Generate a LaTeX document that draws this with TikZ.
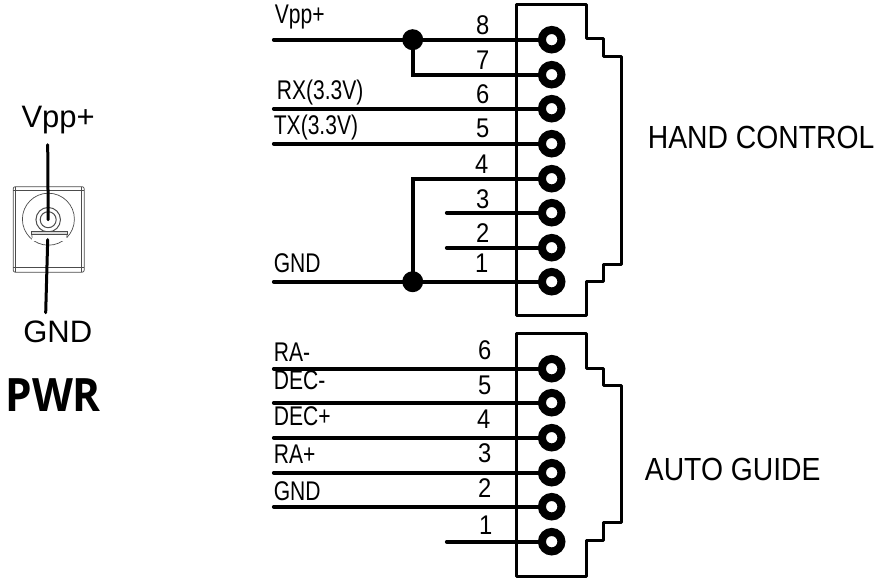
\documentclass[tikz,border=0pt]{standalone}
\usepackage{fontspec}
\setmainfont{Liberation Sans}
\newfontfamily\pwrfont{Open Sans}
\tikzset{
  x=1pt,y=-1pt,
  wire/.style={line width=3.6pt,line cap=round,line join=miter},
  shell/.style={line width=3pt,line join=round},
  pin/.style={circle,draw,line width=8pt,fill=white,inner sep=0pt,minimum size=19.5pt},
  junction/.style={circle,fill=black,inner sep=0pt,minimum size=21pt},
  thin part/.style={line width=0.7pt,draw=black!70},
  wirelabel/.style={font=\fontsize{27}{27}\selectfont,xscale=.78,anchor=base west,inner sep=0pt},
  pinnum/.style={font=\fontsize{27}{27}\selectfont,xscale=.88,anchor=base,inner sep=0pt},
  biglabel/.style={font=\fontsize{32}{32}\selectfont,xscale=.885,anchor=base west,inner sep=0pt},
  jacklabel/.style={font=\fontsize{31}{31}\selectfont,anchor=base,inner sep=0pt},
  lead/.style={line width=3pt,line cap=round},
}
\begin{document}
\begin{tikzpicture}
\useasboundingbox (-0.7,-0.7) rectangle (877.3,578.3);
% connector shells
\draw[shell] (516,4) -- (586,4) -- (586,38) -- (603,38) -- (603,56) -- (621,56) -- (621,264) -- (603,264) -- (603,281) -- (586,281) -- (586,315) -- (516,315) -- cycle;
\draw[shell] (516,333) -- (586,333) -- (586,368) -- (603,368) -- (603,385) -- (621,385) -- (621,522) -- (603,522) -- (603,540) -- (586,540) -- (586,576) -- (516,576) -- cycle;
% free ends
\coordinate (w8) at (273,39);
\coordinate (w6) at (273,108);
\coordinate (w5) at (273,143);
\coordinate (w3) at (446,212);
\coordinate (w2) at (446,247);
\coordinate (w1) at (273,281);
\coordinate (a6w) at (273,368);
\coordinate (a5w) at (273,402);
\coordinate (a4w) at (273,437);
\coordinate (a3w) at (273,472);
\coordinate (a2w) at (273,506);
\coordinate (a1w) at (446,541);
\coordinate (t7) at (412,74);
\coordinate (t4) at (412,178);
% pins
\foreach \n/\y in {8/39,7/74,6/108,5/143,4/178,3/212,2/247,1/281}
  \coordinate (c\n) at (551,\y);
\foreach \n/\y in {6/368,5/402,4/437,3/472,2/506,1/541}
  \coordinate (d\n) at (551,\y);
\node[junction] (j1) at (412,39) {};
\node[junction] (j2) at (412,281) {};
% wires
\draw[wire] (w8) -- (c8);
\draw[wire] (j1.center) -- (t7) -- (c7);
\draw[wire] (w6) -- (c6);
\draw[wire] (w5) -- (c5);
\draw[wire] (j2.center) -- (t4) -- (c4);
\draw[wire] (w3) -- (c3);
\draw[wire] (w2) -- (c2);
\draw[wire] (w1) -- (c1);
\draw[wire] (a6w) -- (d6);
\draw[wire] (a5w) -- (d5);
\draw[wire] (a4w) -- (d4);
\draw[wire] (a3w) -- (d3);
\draw[wire] (a2w) -- (d2);
\draw[wire] (a1w) -- (d1);
\foreach \n in {8,7,6,5,4,3,2,1} \node[pin] (p\n) at (c\n) {};
\foreach \n in {6,5,4,3,2,1} \node[pin] (q\n) at (d\n) {};
% pin numbers
\foreach \n/\x/\y in {8/482/34,7/482/69,6/482/103,5/482/137,4/481/173,3/482/208,2/482/242,1/481/272}
  \node[pinnum] (n\n) at (\x,\y) {\n};
\foreach \n/\x/\y in {6/484/359,5/484/394,4/483/428,3/484/462,2/484/497,1/485/534}
  \node[pinnum] (m\n) at (\x,\y) {\n};
% wire labels
\node[wirelabel] (lv) at (274,23) {Vpp+};
\node[wirelabel] (lrx) at (276,99) {RX(3.3V)};
\node[wirelabel] (ltx) at (273,134) {TX(3.3V)};
\node[wirelabel] (lg) at (273,272) {GND};
\node[wirelabel] (lra) at (273,361) {RA-};
\node[wirelabel] (ldm) at (273,389) {DEC-};
\node[wirelabel] (ldp) at (273,425) {DEC+};
\node[wirelabel] (lrp) at (273,463) {RA+};
\node[wirelabel] (lag) at (273,500) {GND};
% titles
\node[biglabel] (hc) at (647,148) {HAND CONTROL};
\node[biglabel] (ag) at (644,479.5) {AUTO GUIDE};
% power jack
\draw[thin part,rounded corners=2pt] (12.5,186) rectangle (83.5,271.5);
\draw[thin part] (15,186) -- (15,271.5);
\draw[thin part] (81,186) -- (81,271.5);
\draw[thin part] (12.5,190) -- (83.5,190);
\draw[thin part] (12.5,267) -- (83.5,267);
\node[circle,thin part,draw,minimum size=52pt,inner sep=0pt] (jack) at (47.7,218.5) {};
\node[circle,thin part,draw,line width=1pt,minimum size=24.5pt,inner sep=0pt] (jo) at (47.5,219) {};
\node[circle,thin part,draw,line width=1pt,minimum size=16pt,inner sep=0pt] (ji) at (47.5,219) {};
\fill[white] (31,231) rectangle (66.5,240);
\draw[thin part,fill=black!15] (31,231) rectangle (66.5,233.5);
\draw[thin part] (31,233.5) -- (31.5,237);
\draw[thin part] (66.5,233.5) -- (66,237);
\coordinate (vtop) at (47,144);
\coordinate (gtop) at (47,239);
\coordinate (gbot) at (45,312);
\draw[lead] (vtop) -- (ji.center);
\draw[lead] (gtop) -- (gbot);
\node[jacklabel] (lv2) at (57.5,127) {Vpp+};
\node[jacklabel] (lg2) at (57,342) {GND};
\node[anchor=base,inner sep=0pt,xscale=.92,font=\pwrfont\bfseries\fontsize{46}{46}\selectfont] (pwr) at (52.5,411) {PWR};
\end{tikzpicture}
\end{document}
